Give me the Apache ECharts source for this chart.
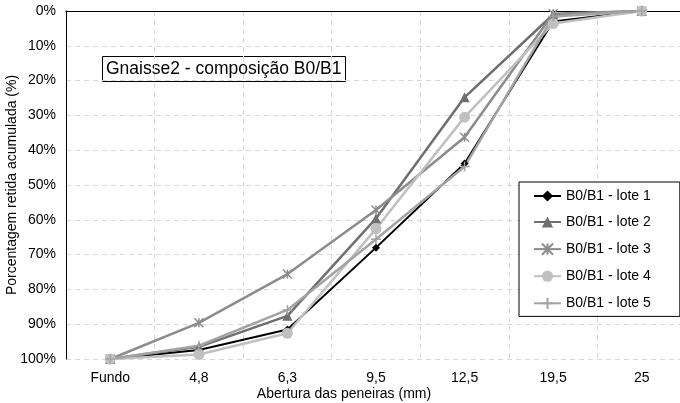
<!DOCTYPE html>
<html>
<head>
<meta charset="utf-8">
<script src="https://cdn.jsdelivr.net/npm/echarts@6/dist/echarts.min.js"></script>
<style>
  html, body { margin: 0; padding: 0; background: #fff; }
  #chart { width: 680px; height: 403px; }
</style>
</head>
<body>
<div id="chart"></div>
<script>
// Sieve openings (mm) and cumulative retained percentage per batch
const peneiras = ['Fundo', '4,8', '6,3', '9,5', '12,5', '19,5', '25'];
const lote1 = [100, 97.4, 91.5, 68.0, 43.8, 3.0, 0];
const lote2 = [100, 96.5, 87.6, 59.6, 24.8, 1.0, 0];
const lote3 = [100, 89.6, 75.6, 57.2, 36.3, 0.8, 0];
const lote4 = [100, 98.7, 92.6, 62.6, 30.5, 3.6, 0];
const lote5 = [100, 96.2, 85.9, 65.6, 44.7, 1.6, 0];
const nomes = ['B0/B1 - lote 1', 'B0/B1 - lote 2', 'B0/B1 - lote 3', 'B0/B1 - lote 4', 'B0/B1 - lote 5'];
const yTicks = [0, 10, 20, 30, 40, 50, 60, 70, 80, 90, 100];

const FONT = "'Liberation Sans', Arial, sans-serif";
const asterisk = 'path://M0,0L10,10M10,0L0,10M5,0L5,10';
const plus = 'path://M5,0L5,10M0,5L10,5';

function serie(name, data, color, symbol, size, width, hollow) {
  return {
    name: name,
    type: 'line',
    data: data,
    symbol: symbol,
    symbolSize: size,
    lineStyle: { color: color, width: width },
    itemStyle: hollow
      ? { color: 'none', borderColor: color, borderWidth: 1.5 }
      : { color: color },
    emphasis: { disabled: true },
    animation: false
  };
}

const chart = echarts.init(document.getElementById('chart'), null, { renderer: 'canvas' });
chart.setOption({
  animation: false,
  backgroundColor: '#fff',
  textStyle: { fontFamily: FONT },
  grid: { left: 66, top: 11, width: 620, height: 348, containLabel: false, outerBoundsMode: 'none' },
  xAxis: [{
    type: 'category',
    data: peneiras,
    boundaryGap: true,
    position: 'bottom',
    axisLine: { lineStyle: { color: '#000', width: 1 } },
    axisTick: { alignWithLabel: true, length: 5, lineStyle: { color: '#000' } },
    axisLabel: { color: '#000', fontSize: 14, fontFamily: FONT, margin: 12 },
    splitLine: { show: true, lineStyle: { color: '#d9d9d9', type: [5, 4], width: 1 } }
  }, {
    type: 'category',
    data: peneiras,
    position: 'top',
    axisLine: { lineStyle: { color: '#000', width: 1 } },
    axisTick: { show: false },
    axisLabel: { show: false },
    splitLine: { show: false }
  }],
  yAxis: {
    type: 'value',
    inverse: true,
    min: 0,
    max: 100,
    interval: 10,
    axisLine: { show: true, lineStyle: { color: '#000', width: 1 } },
    axisTick: { show: false },
    axisLabel: {
      color: '#000', fontSize: 14, fontFamily: FONT, margin: 10,
      formatter: function (v) { return yTicks.indexOf(v) >= 0 ? v + '%' : ''; }
    },
    splitLine: { show: true, lineStyle: { color: '#d9d9d9', type: [5, 4], width: 1 } }
  },
  legend: {
    orient: 'vertical',
    left: 519,
    top: 182,
    padding: [7, 29, 5, 14],
    itemGap: 12,
    itemWidth: 27,
    itemHeight: 14,
    borderColor: '#000',
    borderWidth: 1,
    backgroundColor: '#fff',
    textStyle: { color: '#000', fontSize: 14, fontFamily: FONT },
    data: nomes
  },
  graphic: [{
    type: 'group',
    left: 102,
    top: 56,
    z: 100,
    children: [{
      type: 'rect',
      shape: { x: 0.5, y: 0.5, width: 243, height: 25 },
      style: { fill: '#fff', stroke: '#000', lineWidth: 1 }
    }, {
      type: 'text',
      x: 4, y: 13,
      style: {
        text: 'Gnaisse2 - composição B0/B1',
        font: '17.5px ' + FONT,
        fill: '#000',
        verticalAlign: 'middle'
      }
    }]
  }, {
    type: 'text',
    x: 12, y: 185,
    rotation: Math.PI / 2,
    style: {
      text: 'Porcentagem retida acumulada (%)',
      font: '14px ' + FONT,
      fill: '#000',
      align: 'center',
      verticalAlign: 'middle'
    }
  }, {
    type: 'text',
    x: 344, y: 394,
    style: {
      text: 'Abertura das peneiras (mm)',
      font: '14px ' + FONT,
      fill: '#000',
      align: 'center',
      verticalAlign: 'middle'
    }
  }],
  series: [
    serie(nomes[0], lote1, '#000000', 'diamond', 8, 2, false),
    serie(nomes[1], lote2, '#6f6f6f', 'triangle', 10, 2.5, false),
    serie(nomes[2], lote3, '#8c8c8c', asterisk, 9, 2.5, true),
    serie(nomes[3], lote4, '#c0c0c0', 'circle', 11, 2.5, false),
    serie(nomes[4], lote5, '#a3a3a3', plus, 10, 2.5, true)
  ]
});
</script>
</body>
</html>
